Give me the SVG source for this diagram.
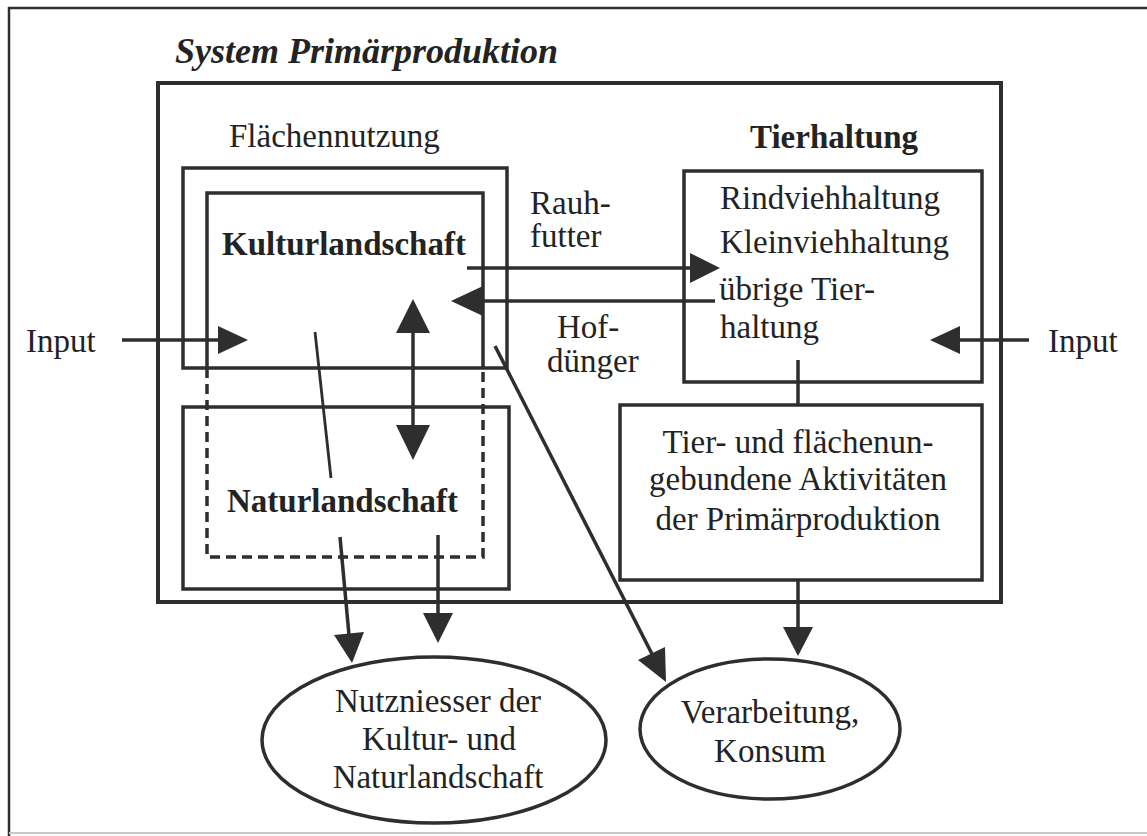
<svg xmlns="http://www.w3.org/2000/svg" width="1147" height="836" viewBox="0 0 1147 836">
<style>
text{font-family:"Liberation Serif","Times New Roman",serif;font-size:33px;fill:#232323}
.b{font-weight:bold}
.c{text-anchor:middle}
.box{fill:none;stroke:#2e2e2e;stroke-width:3.5}
.ln{fill:none;stroke:#2e2e2e;stroke-width:3.5}
.thin{fill:none;stroke:#2e2e2e;stroke-width:2.8}
.dash{fill:none;stroke:#2e2e2e;stroke-width:3.5;stroke-dasharray:10 6}
.hd{fill:#2e2e2e;stroke:none}
</style>
<rect width="1147" height="836" fill="#ffffff"/>
<g id="frame">
<line x1="8" y1="8" x2="1147" y2="8" stroke="#2e2e2e" stroke-width="2.5"/>
<line x1="9" y1="7" x2="9" y2="836" stroke="#2e2e2e" stroke-width="2.5"/>
<line x1="9" y1="833" x2="1147" y2="833" stroke="#c8c8c8" stroke-width="2"/>
<text x="175" y="63" style="font-weight:bold;font-style:italic;font-size:36px">System Primärproduktion</text>
</g>
<g id="system">
<rect class="box" x="158" y="83" width="843" height="519" style="stroke-width:4"/>
</g>
<g id="flaechennutzung">
<text x="229" y="147">Flächennutzung</text>
<rect class="box" x="183" y="168" width="324" height="200"/>
</g>
<g id="kulturlandschaft">
<path class="box" d="M207,368 V193 H483 V368"/>
<path class="dash" d="M207,368 V557 H483 V368"/>
<text class="b" x="222" y="255">Kulturlandschaft</text>
</g>
<g id="naturlandschaft">
<rect class="box" x="183" y="407" width="326" height="182"/>
<text class="b" x="227" y="512">Naturlandschaft</text>
</g>
<g id="tierhaltung">
<text class="b" x="750" y="148">Tierhaltung</text>
<rect class="box" x="684" y="171" width="298" height="211"/>
<text x="720" y="209">Rindviehhaltung</text>
<text x="720" y="253">Kleinviehhaltung</text>
<text x="719" y="300">übrige Tier-</text>
<text x="720" y="338">haltung</text>
</g>
<g id="ungebunden">
<rect class="box" x="620" y="405" width="362" height="175"/>
<text class="c" x="798" y="453">Tier- und flächenun-</text>
<text class="c" x="798" y="490">gebundene Aktivitäten</text>
<text class="c" x="798" y="530">der Primärproduktion</text>
</g>
<g id="nutzniesser">
<ellipse class="box" cx="434" cy="740" rx="172" ry="83"/>
<text class="c" x="438" y="712">Nutzniesser der</text>
<text class="c" x="439" y="750">Kultur- und</text>
<text class="c" x="438" y="788">Naturlandschaft</text>
</g>
<g id="verarbeitung">
<ellipse class="box" cx="770" cy="729" rx="130" ry="70"/>
<text class="c" x="770" y="723">Verarbeitung,</text>
<text class="c" x="770" y="762">Konsum</text>
</g>
<g id="labels">
<text x="26" y="352">Input</text>
<text x="1048" y="352">Input</text>
<text x="530" y="214">Rauh-</text>
<text x="530" y="247">futter</text>
<text x="557" y="338">Hof-</text>
<text x="547" y="372">dünger</text>
</g>
<g id="connectors">
<line class="ln" x1="122" y1="340" x2="220" y2="340"/>
<polygon class="hd" points="218,326 248,340 218,354"/>
<line class="ln" x1="1029" y1="340" x2="958" y2="340"/>
<polygon class="hd" points="960,326 930,340 960,354"/>
<line class="ln" x1="467" y1="268" x2="692" y2="268"/>
<polygon class="hd" points="690,253 720,268 690,283"/>
<line class="ln" x1="715" y1="301" x2="481" y2="301"/>
<polygon class="hd" points="483,286 451,301 483,316"/>
<line class="ln" x1="413" y1="331" x2="413" y2="427"/>
<polygon class="hd" points="396,333 413,299 430,333"/>
<polygon class="hd" points="396,425 413,460 430,425"/>
<line class="thin" x1="315" y1="332" x2="331" y2="478"/>
<line class="ln" x1="495" y1="346" x2="652" y2="654"/>
<polygon class="hd" points="638,660 666,682 665,647"/>
<line class="ln" x1="340" y1="537" x2="349" y2="635"/>
<polygon class="hd" points="334,635 352,663 364,632"/>
<line class="ln" x1="438" y1="535" x2="438" y2="615"/>
<polygon class="hd" points="423,613 438,643 453,613"/>
<line class="ln" x1="798" y1="360" x2="798" y2="405"/>
<line class="ln" x1="798" y1="580" x2="798" y2="629"/>
<polygon class="hd" points="783,627 798,656 813,627"/>
</g>
</svg>
